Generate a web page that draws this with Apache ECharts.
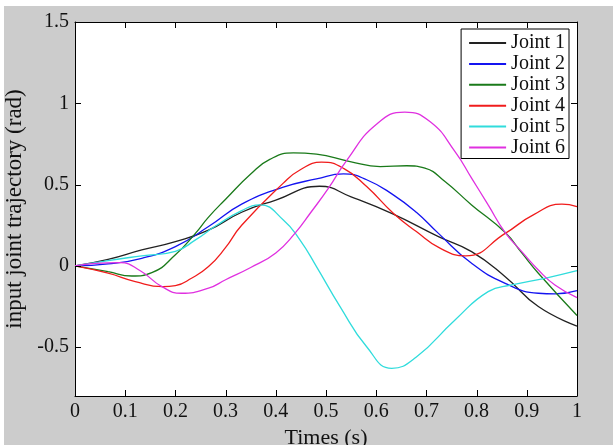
<!DOCTYPE html>
<html>
<head>
<meta charset="utf-8">
<script src="https://cdn.jsdelivr.net/npm/echarts@6/dist/echarts.min.js"></script>
<style>
  html, body { margin: 0; padding: 0; background: #fff; }
  #frame { position: absolute; left: 4px; top: 6px; width: 609px; height: 439px; background: #cccccc; }
  #plotbg { position: absolute; left: 71px; top: 16px; width: 502px; height: 374px; background: #fff; }
  #chart { position: absolute; left: 0; top: 0; width: 609px; height: 439px; }
</style>
</head>
<body>
<div id="frame"><div id="plotbg"></div><div id="chart"></div></div>
<script>
// joint angles (rad) as [time (s), value] pairs
const joint1 = [[0, 0], [0.066, 0.04], [0.133, 0.098], [0.2, 0.15], [0.266, 0.22], [0.332, 0.33],
  [0.4, 0.405], [0.487, 0.49], [0.55, 0.425], [0.633, 0.32], [0.724, 0.18], [0.79, 0.088],
  [0.857, -0.066], [0.923, -0.25], [1, -0.37]];
const joint2 = [[0, 0], [0.066, 0.012], [0.133, 0.047], [0.2, 0.119], [0.266, 0.242], [0.332, 0.38],
  [0.415, 0.484], [0.481, 0.535], [0.535, 0.566], [0.581, 0.53], [0.634, 0.437], [0.68, 0.33],
  [0.724, 0.2], [0.79, 0.016], [0.857, -0.107], [0.923, -0.168], [0.956, -0.172], [1, -0.152]];
const joint3 = [[0, 0], [0.066, -0.035], [0.113, -0.062], [0.153, -0.041], [0.2, 0.068], [0.239, 0.197],
  [0.266, 0.3], [0.3, 0.41], [0.35, 0.565], [0.388, 0.655], [0.435, 0.695], [0.481, 0.687],
  [0.548, 0.642], [0.608, 0.611], [0.661, 0.616], [0.697, 0.601], [0.737, 0.519], [0.79, 0.375],
  [0.857, 0.205], [0.89, 0.08], [0.923, -0.045], [1, -0.305]];
const joint4 = [[0, 0], [0.066, -0.045], [0.12, -0.096], [0.175, -0.127], [0.2, -0.121], [0.232, -0.076],
  [0.266, -0.004], [0.299, 0.109], [0.332, 0.25], [0.415, 0.509], [0.448, 0.59], [0.491, 0.638],
  [0.535, 0.6], [0.581, 0.488], [0.634, 0.324], [0.68, 0.211], [0.727, 0.109], [0.778, 0.062],
  [0.857, 0.2], [0.913, 0.314], [0.97, 0.38], [1, 0.365]];
const joint5 = [[0, 0], [0.066, 0.033], [0.133, 0.062], [0.2, 0.09], [0.24, 0.16], [0.28, 0.245],
  [0.332, 0.34], [0.368, 0.375], [0.415, 0.283], [0.448, 0.16], [0.481, -0.004], [0.528, -0.25],
  [0.581, -0.497], [0.631, -0.63], [0.68, -0.56], [0.757, -0.332], [0.823, -0.158], [0.87, -0.117],
  [0.936, -0.076], [1, -0.029]];
const joint6 = [[0, 0], [0.04, 0.015], [0.09, 0.02], [0.13, -0.03], [0.173, -0.127], [0.212, -0.168],
  [0.266, -0.137], [0.3, -0.085], [0.35, -0.01], [0.4, 0.08], [0.438, 0.2], [0.47, 0.33],
  [0.505, 0.478], [0.541, 0.648], [0.6, 0.87], [0.657, 0.946], [0.707, 0.888], [0.757, 0.703],
  [0.79, 0.54], [0.823, 0.375], [0.857, 0.205], [0.89, 0.088], [0.923, -0.025], [0.956, -0.117],
  [1, -0.195]];

const names = ['Joint 1', 'Joint 2', 'Joint 3', 'Joint 4', 'Joint 5', 'Joint 6'];
const colors = ['#222222', '#1414f0', '#1a7a1a', '#f01c1c', '#30dcdc', '#e030e0'];
const xTicks = [0, 0.1, 0.2, 0.3, 0.4, 0.5, 0.6, 0.7, 0.8, 0.9, 1];
const yTicks = [-0.5, 0, 0.5, 1, 1.5];
const xRange = [0, 1];
const yRange = [-0.8, 1.5];

const font = 'Liberation Serif';
const tickLen = 6;
const chart = echarts.init(document.getElementById('chart'));

const series = [joint1, joint2, joint3, joint4, joint5, joint6].map((pts, i) => ({
  name: names[i],
  type: 'line',
  data: pts,
  showSymbol: false,
  symbol: 'none',
  smooth: 0.5,
  color: colors[i],
  lineStyle: { width: 1.3, color: colors[i] },
  z: 2
}));

const px = v => Math.round(v) + 0.5;
const tickStyle = { stroke: '#000', lineWidth: 1 };

// inward ticks on bottom and top edges
series.push({
  type: 'custom',
  name: 'xticks',
  silent: true,
  clip: false,
  z: 5,
  data: xTicks.map(t => [t]),
  encode: { x: 0 },
  renderItem: (params, api) => {
    const t = api.value(0);
    const b = api.coord([t, yRange[0]]);
    const u = api.coord([t, yRange[1]]);
    const x = px(b[0]);
    return {
      type: 'group',
      children: [
        { type: 'line', shape: { x1: x, y1: b[1], x2: x, y2: b[1] - tickLen }, style: tickStyle },
        { type: 'line', shape: { x1: x, y1: u[1], x2: x, y2: u[1] + tickLen }, style: tickStyle }
      ]
    };
  }
});

// inward ticks on left and right edges
series.push({
  type: 'custom',
  name: 'yticks',
  silent: true,
  clip: false,
  z: 5,
  data: yTicks.map(v => [xRange[0], v]),
  encode: { x: 0, y: 1 },
  renderItem: (params, api) => {
    const v = api.value(1);
    const l = api.coord([xRange[0], v]);
    const r = api.coord([xRange[1], v]);
    const y = px(l[1]);
    return {
      type: 'group',
      children: [
        { type: 'line', shape: { x1: l[0], y1: y, x2: l[0] + tickLen, y2: y }, style: tickStyle },
        { type: 'line', shape: { x1: r[0], y1: y, x2: r[0] - tickLen, y2: y }, style: tickStyle }
      ]
    };
  }
});

const axLine = { show: true, onZero: false, lineStyle: { color: '#000' } };

chart.setOption({
  animation: false,
  textStyle: { fontFamily: font },
  grid: {
    left: 71, right: 36, top: 16, bottom: 49,
    outerBoundsMode: 'none',
    show: false
  },
  legend: {
    orient: 'vertical',
    right: 44,
    top: 23,
    data: names,
    icon: 'rect',
    itemWidth: 37,
    itemHeight: 2,
    itemGap: 0.9,
    padding: [4, 4, 1, 8],
    backgroundColor: '#fff',
    borderColor: '#000',
    borderWidth: 1,
    z: 10,
    textStyle: { fontFamily: font, fontSize: 20, lineHeight: 20, color: '#111' }
  },
  xAxis: [{
    type: 'value', min: xRange[0], max: xRange[1], interval: 0.1,
    name: 'Times (s)', nameLocation: 'middle', nameGap: 28,
    nameTextStyle: { fontFamily: font, fontSize: 22, color: '#111' },
    axisLine: axLine,
    axisTick: { show: false },
    axisLabel: { fontFamily: font, fontSize: 20, color: '#111', margin: 6 },
    splitLine: { show: false }
  }, {
    type: 'value', min: xRange[0], max: xRange[1], position: 'top',
    axisLine: axLine, axisTick: { show: false },
    axisLabel: { show: false }, splitLine: { show: false }
  }],
  yAxis: [{
    type: 'value', min: yRange[0], max: yRange[1],
    name: 'input joint trajectory (rad)', nameLocation: 'middle', nameGap: 38,
    nameTextStyle: { fontFamily: font, fontSize: 23, color: '#111' },
    axisLine: axLine,
    axisTick: { show: false },
    axisLabel: { customValues: yTicks, fontFamily: font, fontSize: 20, color: '#111', margin: 6 },
    splitLine: { show: false }
  }, {
    type: 'value', min: yRange[0], max: yRange[1], position: 'right',
    axisLine: axLine, axisTick: { show: false },
    axisLabel: { show: false }, splitLine: { show: false }
  }],
  series: series
});
</script>
</body>
</html>
